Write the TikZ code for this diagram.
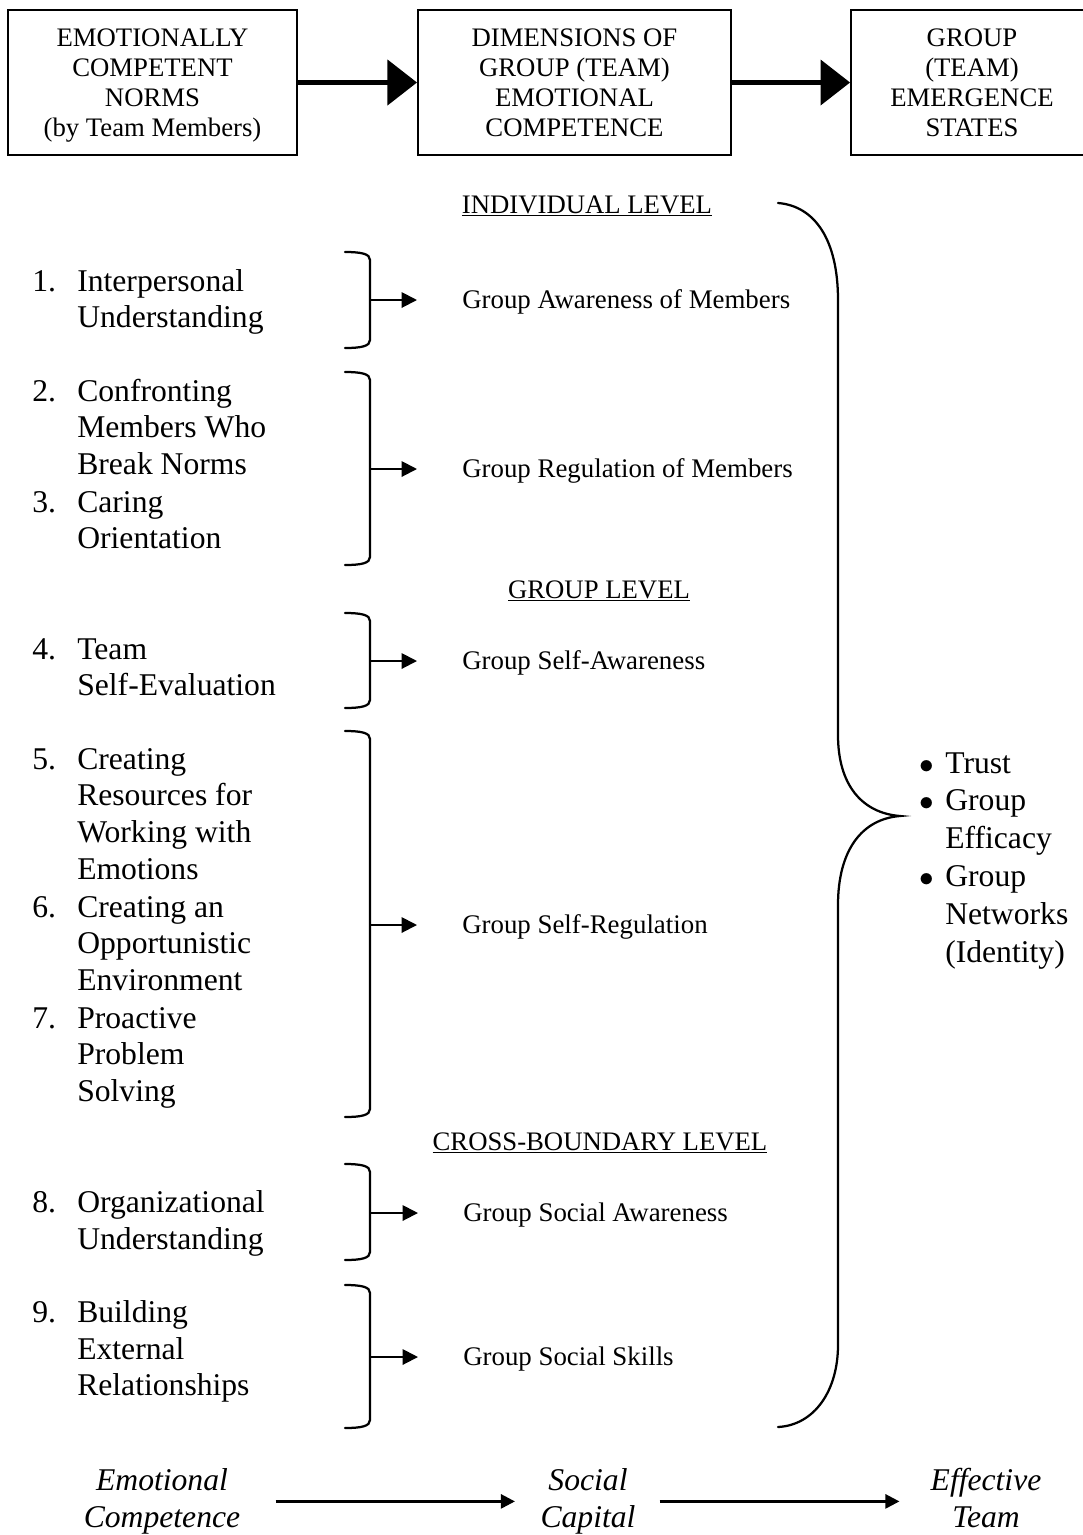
\documentclass[tikz,border=0pt]{standalone}
\usepackage{fontspec}
\setmainfont{Liberation Serif}
\usetikzlibrary{arrows.meta}

\tikzset{
  box/.style={draw, line width=1.4pt, minimum height=103pt, align=center, inner sep=0pt,
    font=\fontsize{19}{21.3}\selectfont},
  bigarrow/.style={line width=3pt, -{Triangle[length=21pt,width=32pt]}},
  brace/.style={line width=1.6pt, line cap=round},
  dimarrow/.style={line width=1.4pt, -{Triangle[length=11pt,width=11pt]}, shorten >=32pt},
  normitem/.style={anchor=base west, inner sep=0pt, font=\fontsize{22.5}{26.3}\selectfont},
  dimlabel/.style={anchor=base west, inner sep=0pt, font=\fontsize{19.1}{22}\selectfont},
  levelhead/.style={anchor=base, inner sep=0pt, font=\fontsize{19}{22}\selectfont},
  flowtext/.style={anchor=base, inner sep=0pt, font=\fontsize{22.5}{27}\selectfont\itshape},
  flowarrow/.style={line width=1.8pt, -{Triangle[length=10pt,width=10pt]}}
}

\begin{document}
\begin{tikzpicture}[x=0.025cm, y=-0.025cm]
  \useasboundingbox (0,0) rectangle (1083,1535);

  % top row
  \node[box, minimum width=205.6pt] (norms) at (152.5,82.5)
    {\rule{0pt}{16.5pt}EMOTIONALLY\\COMPETENT\\NORMS\\(by Team Members)};
  \node[box, minimum width=222.6pt] (dims) at (574.5,82.5)
    {DIMENSIONS OF\\GROUP (TEAM)\\EMOTIONAL\\COMPETENCE};
  \node[box, minimum width=172pt] (states) at (972,82.5)
    {GROUP\\(TEAM)\\EMERGENCE\\STATES};
  \draw[bigarrow] (norms) -- (dims);
  \draw[bigarrow] (dims) -- (states);

  % norms
  \node[normitem] (n1) at (32,291) {\begin{tabular}[t]{@{}p{32pt}@{}l@{}}1. & Interpersonal\\ & Understanding\end{tabular}};
  \node[normitem] (n2) at (32,401) {\begin{tabular}[t]{@{}p{32pt}@{}l@{}}2. & Confronting\\ & Members Who\\ & Break Norms\end{tabular}};
  \node[normitem] (n3) at (32,512) {\begin{tabular}[t]{@{}p{32pt}@{}l@{}}3. & Caring\\ & Orientation\end{tabular}};
  \node[normitem] (n4) at (32,659) {\begin{tabular}[t]{@{}p{32pt}@{}l@{}}4. & Team\\ & Self-Evaluation\end{tabular}};
  \node[normitem] (n5) at (32,769) {\begin{tabular}[t]{@{}p{32pt}@{}l@{}}5. & Creating\\ & Resources for\\ & Working with\\ & Emotions\end{tabular}};
  \node[normitem] (n6) at (32,917) {\begin{tabular}[t]{@{}p{32pt}@{}l@{}}6. & Creating an\\ & Opportunistic\\ & Environment\end{tabular}};
  \node[normitem] (n7) at (32,1028) {\begin{tabular}[t]{@{}p{32pt}@{}l@{}}7. & Proactive\\ & Problem\\ & Solving\end{tabular}};
  \node[normitem] (n8) at (32,1212) {\begin{tabular}[t]{@{}p{32pt}@{}l@{}}8. & Organizational\\ & Understanding\end{tabular}};
  \node[normitem] (n9) at (32,1322) {\begin{tabular}[t]{@{}p{32pt}@{}l@{}}9. & Building\\ & External\\ & Relationships\end{tabular}};

  % level headings
  \node[levelhead] (indiv) at (587,213) {\underline{INDIVIDUAL LEVEL}};
  \node[levelhead] (group) at (599,598) {\underline{GROUP LEVEL}};
  \node[levelhead] (cross) at (600,1150) {\underline{CROSS-BOUNDARY LEVEL}};

  % dimensions
  \node[dimlabel] (dim1) at (462,308) {Group Awareness of Members};
  \node[dimlabel] (dim2) at (462,477) {Group Regulation of Members};
  \node[dimlabel] (dim3) at (462,669) {Group Self-Awareness};
  \node[dimlabel] (dim4) at (462,933) {Group Self-Regulation};
  \node[dimlabel] (dim5) at (463,1221) {Group Social Awareness};
  \node[dimlabel] (dim6) at (463,1365) {Group Social Skills};

  % small braces
  \foreach \t/\b/\m/\i in {252/348/300/1, 372/565/469/2, 613/708/661/3,
                           731/1117/925/4, 1164/1260/1213/5, 1285/1428/1357/6}{
    \draw[brace] (345,\t) .. controls (362,\t) and (370,\t+2) .. (370,\t+8)
      -- (370,\b-8) .. controls (370,\b-2) and (362,\b) .. (345,\b);
    \coordinate (br\i) at (370,\m);
  }
  \foreach \i in {1,...,6}
    \draw[dimarrow] (br\i) -- (br\i -| dim\i.west);

  % big brace
  \draw[brace] (778,203) .. controls (815,206) and (838,240) .. (838,300)
    -- (838,735) .. controls (838,785) and (862,813) .. (900,816)
    .. controls (862,819) and (838,850) .. (838,905)
    -- (838,1345) .. controls (838,1390) and (815,1425) .. (778,1427);

  \node[normitem, font=\fontsize{22.5}{26.9}\selectfont] (emerge) at (919,773)
    {\begin{tabular}[t]{@{}p{18.5pt}@{}l@{}}$\bullet$ & Trust\\ $\bullet$ & Group\\ & Efficacy\\ $\bullet$ & Group\\ & Networks\\ & (Identity)\end{tabular}};

  % bottom chain
  \node[flowtext] (emo) at (162,1490) {\begin{tabular}[t]{@{}c@{}}Emotional\\Competence\end{tabular}};
  \node[flowtext] (soc) at (588,1490) {\begin{tabular}[t]{@{}c@{}}Social\\Capital\end{tabular}};
  \node[flowtext] (eff) at (986,1490) {\begin{tabular}[t]{@{}c@{}}Effective\\Team\end{tabular}};
  \draw[flowarrow, shorten <=25pt, shorten >=18pt] (emo) -- (soc);
  \draw[flowarrow, shorten <=17pt, shorten >=22pt] (soc) -- (eff);
\end{tikzpicture}
\end{document}
